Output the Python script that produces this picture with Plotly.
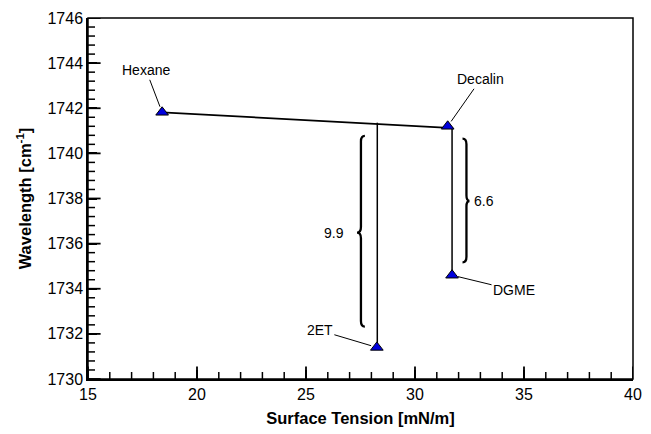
import plotly.graph_objects as go

# Data
names = ["Hexane", "Decalin", "DGME", "2ET"]
tension = [18.4, 31.5, 31.7, 28.25]
wavelength = [1741.82, 1741.2, 1734.6, 1731.4]

# connecting line Hexane -> Decalin side
line_x = [18.4, 31.75]
line_y = [1741.82, 1741.12]
# vertical drops
drop_2et_x = [28.27, 28.27]
drop_2et_y = [1741.36, 1731.4]
drop_dgme_x = [31.7, 31.7]
drop_dgme_y = [1741.15, 1734.6]

# braces
brace_labels = ["9.9", "6.6"]
brace_x_ends = [27.70, 32.18]
brace_x_spine = [27.52, 32.36]
brace_x_tip = [27.34, 32.50]
brace_y_top = [1740.78, 1740.65]
brace_y_bot = [1732.32, 1735.17]
brace_y_tip = [1736.49, 1737.89]
brace_label_x = [26.85, 32.62]
brace_label_anchor = ["right", "left"]

# axis ticks
x_range = [15, 40]
y_range = [1730, 1746]
x_major = [15, 20, 25, 30, 35, 40]
y_major = [1730, 1732, 1734, 1736, 1738, 1740, 1742, 1744, 1746]
x_minor_steps = 5      # 4 minor ticks between majors
y_minor_steps = 5      # 4 minor ticks between majors

# label offsets (pixels)
label_ax = [-16, 33, 62, -57]
label_ay = [-42, -47, 15, -17]

FONT = "Liberation Sans, Arial, sans-serif"

x_minor = [a + (b - a) * k / x_minor_steps for a, b in zip(x_major[:-1], x_major[1:])
           for k in range(1, x_minor_steps)]
y_minor = [a + (b - a) * k / y_minor_steps for a, b in zip(y_major[:-1], y_major[1:])
           for k in range(1, y_minor_steps)]

fig = go.Figure()
fig.add_trace(go.Scatter(x=line_x, y=line_y, mode="lines",
                         line=dict(color="black", width=1.8), showlegend=False))
fig.add_trace(go.Scatter(x=drop_2et_x, y=drop_2et_y, mode="lines",
                         line=dict(color="black", width=1.5), showlegend=False))
fig.add_trace(go.Scatter(x=drop_dgme_x, y=drop_dgme_y, mode="lines",
                         line=dict(color="black", width=1.5), showlegend=False))
fig.add_trace(go.Scatter(x=tension, y=wavelength, mode="markers",
                         marker=dict(symbol="triangle-up", size=11, color="#0000dd",
                                     line=dict(color="black", width=1)),
                         showlegend=False))

# inside tick marks (clipped to plot area so only the inner half shows)
def tick_trace(xs, ys, symbol, size, width):
    return go.Scatter(x=xs, y=ys, mode="markers", cliponaxis=True, showlegend=False,
                      hoverinfo="skip",
                      marker=dict(symbol=symbol, size=size, color="black",
                                  line=dict(color="black", width=width)))

fig.add_trace(tick_trace(x_major, [y_range[0]] * len(x_major), "line-ns", 18, 1.8))
fig.add_trace(tick_trace(x_minor, [y_range[0]] * len(x_minor), "line-ns", 10, 1.5))
fig.add_trace(tick_trace([x_range[0]] * len(y_major), y_major, "line-ew", 18, 1.8))
fig.add_trace(tick_trace([x_range[0]] * len(y_minor), y_minor, "line-ew", 10, 1.5))

# frame around plot area
shapes = [dict(type="rect", xref="paper", yref="paper", x0=0, x1=1, y0=0, y1=1,
               line=dict(color="black", width=1.5), layer="above")]
for i in range(len(brace_labels)):
    xe, xs, xt = brace_x_ends[i], brace_x_spine[i], brace_x_tip[i]
    yt, yb, ym = brace_y_top[i], brace_y_bot[i], brace_y_tip[i]
    d = 0.25
    path = (f"M {xe},{yt} Q {xs},{yt} {xs},{yt-d} L {xs},{ym+d} "
            f"Q {xs},{ym} {xt},{ym} Q {xs},{ym} {xs},{ym-d} "
            f"L {xs},{yb+d} Q {xs},{yb} {xe},{yb}")
    shapes.append(dict(type="path", path=path, xref="x", yref="y",
                       line=dict(color="black", width=2.3)))
    fig.add_annotation(x=brace_label_x[i], y=ym, text=brace_labels[i], showarrow=False,
                       xanchor=brace_label_anchor[i], yanchor="middle",
                       font=dict(family=FONT, size=14, color="black"))

for i, n in enumerate(names):
    fig.add_annotation(x=tension[i], y=wavelength[i], text=n, showarrow=True,
                       arrowhead=0, arrowwidth=1, arrowcolor="black",
                       ax=label_ax[i], ay=label_ay[i], standoff=6,
                       font=dict(family=FONT, size=14, color="black"))

fig.update_layout(
    width=651, height=434,
    margin=dict(l=88, r=9, t=18, b=51),
    paper_bgcolor="white", plot_bgcolor="white",
    shapes=shapes,
    font=dict(family=FONT, size=16, color="black"),
    xaxis=dict(range=x_range, tickvals=x_major, ticks="inside",
               ticklen=9, tickwidth=1.8, tickcolor="black",
               showline=True, linecolor="black", linewidth=1.5,
               showgrid=False, zeroline=False,
               tickfont=dict(family=FONT, size=16, color="black"),
               title=dict(text="<b>Surface Tension [mN/m]</b>",
                          font=dict(family=FONT, size=16.5, color="black"), standoff=10)),
    yaxis=dict(range=y_range, tickvals=y_major, ticks="inside",
               ticklen=9, tickwidth=1.8, tickcolor="black",
               showline=True, linecolor="black", linewidth=1.5,
               showgrid=False, zeroline=False,
               tickfont=dict(family=FONT, size=16, color="black"),
               title=dict(text="<b>Wavelength [cm<sup>-1</sup>]</b>",
                          font=dict(family=FONT, size=16.5, color="black"), standoff=12)),
)

fig.write_html("out.html")
